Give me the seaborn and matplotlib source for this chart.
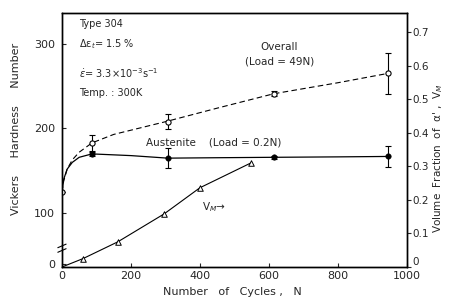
import numpy as np
import pandas as pd
import seaborn as sns
import matplotlib.pyplot as plt

sns.set_style("ticks")
plt.rcParams['font.family'] = ['DejaVu Sans']

# overall hardness (Load = 49N), open circles + dashed fit
overall_n = [0, 87, 307, 614, 945]
overall_hv = [125, 183, 208, 241, 265]
overall_err = [0, 9, 9, 3, 24]
overall_fit_n = [0, 5, 15, 30, 50, 87, 150, 300, 450, 614, 800, 945]
overall_fit_hv = [125, 138, 152, 163, 172, 183, 193, 208, 224, 241, 254, 265]

# austenite hardness (Load = 0.2N), filled markers + solid fit
aust_n = [87, 307, 614, 945]
aust_hv = [170, 165, 166, 167]
aust_err = [2, 12, 2, 12]
aust_fit_n = [0, 5, 15, 30, 50, 87, 200, 307, 450, 614, 800, 945]
aust_fit_hv = [125, 140, 152, 160, 166, 170, 168, 165, 165.5, 166, 166.5, 167]

# martensite volume fraction V_M (right axis)
vm_n = [0, 61, 162, 296, 400, 548]
vm_frac = [0.0, 0.025, 0.075, 0.158, 0.236, 0.31]

fig = plt.figure(figsize=(4.49, 2.99), dpi=100)
ax = fig.add_axes([0.138, 0.107, 0.768, 0.850])
ax2 = ax.twinx()

sns.lineplot(x=overall_fit_n, y=overall_fit_hv, ax=ax, color="black", lw=0.8,
             linestyle=(0, (5, 3)))
sns.lineplot(x=aust_fit_n, y=aust_fit_hv, ax=ax, color="black", lw=0.9)
ax.errorbar(overall_n, overall_hv, yerr=overall_err, fmt="none", ecolor="black",
            elinewidth=0.8, capsize=2.5, capthick=0.8)
ax.errorbar(aust_n, aust_hv, yerr=aust_err, fmt="none", ecolor="black",
            elinewidth=0.8, capsize=2.5, capthick=0.8)
sns.scatterplot(x=overall_n, y=overall_hv, ax=ax, marker="o", s=14,
                facecolor="white", edgecolor="black", linewidth=0.8, zorder=5)
sns.scatterplot(x=aust_n, y=aust_hv, ax=ax, marker="o", s=16,
                color="black", edgecolor="black", zorder=5)

sns.lineplot(x=vm_n, y=vm_frac, ax=ax2, color="black", lw=0.8)
sns.scatterplot(x=vm_n[1:], y=vm_frac[1:], ax=ax2, marker="^", s=16,
                facecolor="white", edgecolor="black", linewidth=0.7, zorder=5)

ax.set_xlim(0, 1000)
ax.set_ylim(36.5, 336.5)
ax2.set_ylim(0, 0.757)
ax.set_xticks([0, 200, 400, 600, 800, 1000])
ax.set_yticks([40, 100, 200, 300])
ax.set_yticklabels(["0", "100", "200", "300"])
ax2.set_yticks([0, 0.1, 0.2, 0.3, 0.4, 0.5, 0.6, 0.7])
ax2.set_yticklabels(["0", "0.1", "0.2", "0.3", "0.4", "0.5", "0.6", "0.7"])
ax2.get_yticklabels()[0].set_va("bottom")  # sits above the "1000" like the original

for a in (ax, ax2):
    for s in a.spines.values():
        s.set_linewidth(1.0)
        s.set_color("black")
ax.tick_params(axis="y", direction="in", length=3, labelsize=8, pad=5)
ax.tick_params(axis="x", direction="in", length=3, labelsize=8, pad=3)
ax2.tick_params(axis="y", direction="out", length=3, labelsize=7.5, pad=1)

# axis titles placed explicitly so they stay inside the small canvas
fig.text(0.517, 0.025, "Number   of   Cycles ,   N", fontsize=8,
         ha="center", va="center")
fig.text(0.035, 0.57, "Vickers     Hardness     Number", fontsize=8,
         ha="center", va="center", rotation=90)
fig.text(0.975, 0.47, "Volume  Fraction  of  \u03b1' ,  V$_M$", fontsize=7.5,
         ha="center", va="center", rotation=90)

# axis break on the left spine
for dy in (0.0, 0.018):
    ax.plot([-0.012, 0.012], [0.058 + dy, 0.072 + dy], transform=ax.transAxes,
            color="black", lw=0.8, clip_on=False)

ax.text(0.05, 0.975, "Type 304", transform=ax.transAxes, fontsize=7, va="top")
ax.text(0.05, 0.905, "\u0394\u03b5$_t$= 1.5 %", transform=ax.transAxes, fontsize=7, va="top")
ax.text(0.05, 0.79, "$\\dot{\\epsilon}$= 3.3\u00d710$^{-3}$s$^{-1}$", transform=ax.transAxes,
        fontsize=7, va="top")
ax.text(0.05, 0.705, "Temp. : 300K", transform=ax.transAxes, fontsize=7, va="top")
ax.text(630, 293, "Overall", fontsize=7.5, ha="center")
ax.text(630, 275, "(Load = 49N)", fontsize=7.5, ha="center")
ax.text(440, 180, "Austenite    (Load = 0.2N)", fontsize=7.5, ha="center")
ax.text(440, 104, "V$_M$\u2192", fontsize=7.5, ha="center")

fig.savefig("out.png", dpi=100)
